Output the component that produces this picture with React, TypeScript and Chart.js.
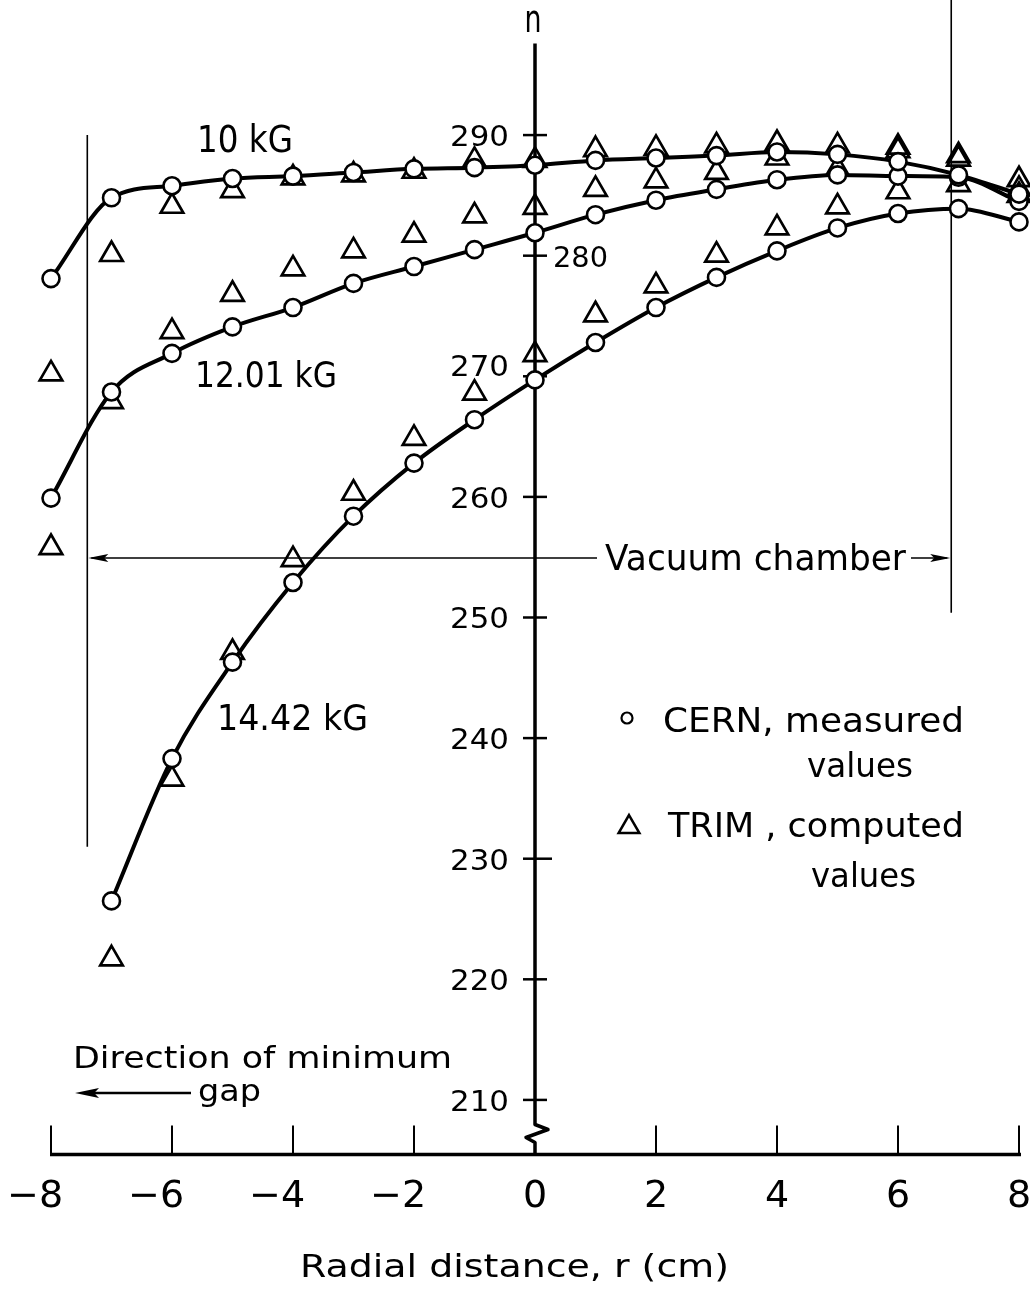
import React, { useEffect, useRef } from "react";
import { Chart, registerables } from "chart.js";

Chart.register(...registerables);

// ---------- data ----------
const radialPositions = [-8, -7, -6, -5, -4, -3, -2, -1, 0, 1, 2, 3, 4, 5, 6, 7, 8];

const cern10kG = [278.1, 284.8, 285.8, 286.4, 286.6, 286.9, 287.2, 287.3, 287.5, 287.9, 288.1, 288.3, 288.6, 288.4, 287.8, 286.7, 285.1];
const trim10kG = [270.2, 280.1, 284.1, 285.4, 286.45, 286.7, 287.0, 287.9, 287.9, 288.8, 288.9, 289.1, 289.3, 289.1, 289.0, 288.3, 286.3];

const cern1201kG = [259.9, 268.7, 271.9, 274.1, 275.7, 277.7, 279.1, 280.5, 281.9, 283.4, 284.6, 285.5, 286.3, 286.7, 286.6, 286.5, 284.5];
const trim1201kG = [255.8, 267.9, 273.7, 276.8, 278.9, 280.4, 281.7, 283.3, 284.0, 285.5, 286.2, 286.9, 288.1, 287.2, 288.7, 288.0, 285.5];

const cern1442kG = [null, 226.5, 238.3, 246.3, 252.9, 258.4, 262.8, 266.4, 269.7, 272.8, 275.7, 278.2, 280.4, 282.3, 283.5, 283.9, 282.8];
const trim1442kG = [null, 221.7, 236.6, 247.1, 254.8, 260.3, 264.85, 268.6, 271.8, 275.1, 277.5, 280.05, 282.3, 284.05, 285.3, 285.9, 285.0];

const xTickValues = [-8, -6, -4, -2, 0, 2, 4, 6, 8];
const xTickLabels = ["−8", "−6", "−4", "−2", "0", "2", "4", "6", "8"];
const yTickValues = [210, 220, 230, 240, 250, 260, 270, 280, 290];
const yTickLabels = ["210", "220", "230", "240", "250", "260", "270", "280", "290"];

const curveLabels = ["10 kG", "12.01 kG", "14.42 kG"];
const legendLines = [
  ["CERN, measured", "values"],
  ["TRIM , computed", "values"],
];
const xAxisTitle = "Radial distance, r (cm)";
const yAxisTitle = "n";
const vacuumLabel = "Vacuum chamber";
const directionLabel = ["Direction of minimum", "gap"];

// annotation geometry in data units
const vacuumEdges = [-7.4, 6.88];
const vacuumLevel = 254.93;
const leftEdgeSpan = [290.0, 231.0];
const rightEdgeSpan = [301.2, 250.4];

const FONT = '"DejaVu Sans", "Liberation Sans", sans-serif';

const toXY = (ys: (number | null)[]) =>
  radialPositions
    .map((x, i) => ({ x, y: ys[i] }))
    .filter((p) => p.y !== null) as { x: number; y: number }[];

function fitText(
  ctx: CanvasRenderingContext2D,
  text: string,
  x: number,
  y: number,
  size: number,
  width: number | null,
  align: CanvasTextAlign = "left"
) {
  ctx.save();
  ctx.font = `${size}px ${FONT}`;
  const w = ctx.measureText(text).width;
  const sx = width ? width / w : 1;
  ctx.translate(x, y);
  ctx.scale(sx, 1);
  ctx.textAlign = align;
  ctx.textBaseline = "alphabetic";
  ctx.fillStyle = "#000";
  ctx.fillText(text, 0, 0);
  ctx.restore();
}

function arrowHead(ctx: CanvasRenderingContext2D, tipX: number, tipY: number, dir: number, len: number, half: number) {
  ctx.beginPath();
  ctx.moveTo(tipX, tipY);
  ctx.lineTo(tipX - dir * len, tipY - half);
  ctx.lineTo(tipX - dir * len * 0.8, tipY);
  ctx.lineTo(tipX - dir * len, tipY + half);
  ctx.closePath();
  ctx.fill();
}

const decorPlugin = {
  id: "decor",
  beforeDatasetsDraw(chart: any) {
    const { ctx } = chart;
    const xs = chart.scales.x;
    const ys = chart.scales.y;
    const px = (v: number) => xs.getPixelForValue(v);
    const py = (v: number) => ys.getPixelForValue(v);
    ctx.save();
    ctx.strokeStyle = "#000";
    ctx.fillStyle = "#000";

    // x axis
    const yb = ys.bottom - 1.5;
    ctx.lineWidth = 3.5;
    ctx.beginPath();
    ctx.moveTo(px(-8) - 1, yb);
    ctx.lineTo(px(8) + 2, yb);
    ctx.stroke();
    ctx.lineWidth = 2;
    xTickValues.forEach((v) => {
      if (v === 0) return;
      ctx.beginPath();
      ctx.moveTo(px(v), yb);
      ctx.lineTo(px(v), yb - 29);
      ctx.stroke();
    });

    // y axis with break
    const x0 = px(0);
    ctx.lineWidth = 3.5;
    ctx.lineJoin = "round";
    ctx.beginPath();
    ctx.moveTo(x0, py(297.6));
    ctx.lineTo(x0, yb - 30);
    ctx.lineTo(x0 + 13, yb - 25);
    ctx.lineTo(x0 - 9, yb - 17);
    ctx.lineTo(x0, yb - 12);
    ctx.lineTo(x0, yb);
    ctx.stroke();
    ctx.lineWidth = 2.5;
    yTickValues.forEach((v) => {
      ctx.beginPath();
      ctx.moveTo(x0 - 12, py(v));
      ctx.lineTo(x0 + (v === 230 ? 17 : 12), py(v));
      ctx.stroke();
    });

    // vacuum chamber boundaries
    ctx.lineWidth = 1.6;
    ctx.beginPath();
    ctx.moveTo(px(vacuumEdges[0]), py(leftEdgeSpan[0]));
    ctx.lineTo(px(vacuumEdges[0]), py(leftEdgeSpan[1]));
    ctx.moveTo(px(vacuumEdges[1]), py(rightEdgeSpan[0]));
    ctx.lineTo(px(vacuumEdges[1]), py(rightEdgeSpan[1]));
    ctx.stroke();

    // vacuum chamber arrow
    const vy = py(vacuumLevel);
    ctx.lineWidth = 1.6;
    ctx.beginPath();
    ctx.moveTo(px(vacuumEdges[0]) + 4, vy);
    ctx.lineTo(597, vy);
    ctx.moveTo(911, vy);
    ctx.lineTo(px(vacuumEdges[1]) - 4, vy);
    ctx.stroke();
    arrowHead(ctx, px(vacuumEdges[0]) + 1, vy, -1, 20, 4);
    arrowHead(ctx, px(vacuumEdges[1]) - 1, vy, 1, 20, 4);

    // direction arrow
    ctx.lineWidth = 2.5;
    ctx.beginPath();
    ctx.moveTo(90, 1093);
    ctx.lineTo(191, 1093);
    ctx.stroke();
    arrowHead(ctx, 75, 1093, -1, 24, 5);

    ctx.restore();
  },
  afterDatasetsDraw(chart: any) {
    const { ctx } = chart;
    const xs = chart.scales.x;
    const ys = chart.scales.y;
    const px = (v: number) => xs.getPixelForValue(v);
    const py = (v: number) => ys.getPixelForValue(v);
    ctx.save();
    ctx.fillStyle = "#000";
    ctx.strokeStyle = "#000";

    // x tick labels (digits centred on tick, minus hanging left)
    ctx.font = `38px ${FONT}`;
    xTickValues.forEach((v, i) => {
      const label = xTickLabels[i];
      const digits = label.replace("−", "");
      const wd = ctx.measureText(digits).width;
      const wf = ctx.measureText(label).width;
      ctx.textAlign = "left";
      ctx.textBaseline = "alphabetic";
      ctx.fillText(label, px(v) - wd / 2 - (wf - wd), 1207);
    });

    // y tick labels
    const x0 = px(0);
    yTickValues.forEach((v, i) => {
      const label = yTickLabels[i];
      if (v === 280) {
        fitText(ctx, label, x0 + 18, py(v) + 11, 29, 55, "left");
      } else {
        const dy = v === 270 ? -11 : 0;
        fitText(ctx, label, 509, py(v) + 11 + dy, 29, 59, "right");
      }
    });

    // axis titles
    fitText(ctx, yAxisTitle, x0 - 2, 32, 38, 17, "center");
    fitText(ctx, xAxisTitle, 300, 1277, 32, 429, "left");

    // curve labels
    fitText(ctx, curveLabels[0], 197, 152, 37, 96, "left");
    fitText(ctx, curveLabels[1], 195, 387, 35, 142, "left");
    fitText(ctx, curveLabels[2], 217, 730, 36, 151, "left");

    // vacuum label
    fitText(ctx, vacuumLabel, 605, 570, 36, 301, "left");

    // direction label
    fitText(ctx, directionLabel[0], 73, 1068, 30, 379, "left");
    fitText(ctx, directionLabel[1], 198, 1101, 30, 63, "left");

    // legend
    ctx.lineWidth = 2.2;
    ctx.beginPath();
    ctx.arc(627, 718, 5.5, 0, Math.PI * 2);
    ctx.stroke();
    ctx.lineWidth = 2.5;
    const tx = 629, ty = 827, r = 12;
    ctx.beginPath();
    ctx.moveTo(tx, ty - r);
    ctx.lineTo(tx + r * Math.sin((2 * Math.PI) / 3), ty + r / 2);
    ctx.lineTo(tx - r * Math.sin((2 * Math.PI) / 3), ty + r / 2);
    ctx.closePath();
    ctx.stroke();
    fitText(ctx, legendLines[0][0], 663, 732, 34, 301, "left");
    fitText(ctx, legendLines[0][1], 807, 777, 34, 106, "left");
    fitText(ctx, legendLines[1][0], 668, 837, 34, 296, "left");
    fitText(ctx, legendLines[1][1], 811, 887, 34, 105, "left");

    ctx.restore();
  },
};

const cernStyle = {
  borderColor: "#000",
  borderWidth: 4,
  pointStyle: "circle",
  pointRadius: 8.5,
  pointHoverRadius: 8.5,
  pointBorderWidth: 2.6,
  pointBackgroundColor: "#fff",
  pointBorderColor: "#000",
  cubicInterpolationMode: "monotone",
  showLine: true,
  fill: false,
  clip: false,
  order: 1,
};

const trimStyle = {
  borderColor: "#000",
  showLine: false,
  pointStyle: "triangle",
  pointRadius: 13,
  pointHoverRadius: 13,
  pointBorderWidth: 2.7,
  pointBorderColor: "#000",
  pointBackgroundColor: "rgba(0,0,0,0)",
  clip: false,
  order: 2,
};

export default function App() {
  const ref = useRef<HTMLCanvasElement>(null);
  useEffect(() => {
    if (!ref.current) return;
    const chart = new Chart(ref.current, {
      type: "line",
      data: {
        datasets: [
          { label: "CERN 10 kG", data: toXY(cern10kG), ...cernStyle },
          { label: "CERN 12.01 kG", data: toXY(cern1201kG), ...cernStyle },
          { label: "CERN 14.42 kG", data: toXY(cern1442kG), ...cernStyle },
          { label: "TRIM 10 kG", data: toXY(trim10kG), ...trimStyle },
          { label: "TRIM 12.01 kG", data: toXY(trim1201kG), ...trimStyle },
          { label: "TRIM 14.42 kG", data: toXY(trim1442kG), ...trimStyle },
        ] as any,
      },
      options: {
        responsive: false,
        maintainAspectRatio: false,
        devicePixelRatio: 1,
        animation: false,
        events: [],
        layout: { autoPadding: false, padding: { left: 51, right: 11, top: 0, bottom: 136 } },
        plugins: { legend: { display: false }, tooltip: { enabled: false }, title: { display: false } },
        scales: {
          x: { type: "linear", min: -8, max: 8, display: false },
          y: { type: "linear", min: 205.35, max: 301.2, display: false },
        },
      } as any,
      plugins: [decorPlugin],
    });
    return () => chart.destroy();
  }, []);
  return (
    <div
      style={{
        position: "absolute",
        left: 0,
        top: 0,
        width: 1030,
        height: 1292,
        background: "#fff",
        overflow: "hidden",
      }}
    >
      <canvas ref={ref} width={1030} height={1292} style={{ display: "block", width: 1030, height: 1292 }} />
    </div>
  );
}
